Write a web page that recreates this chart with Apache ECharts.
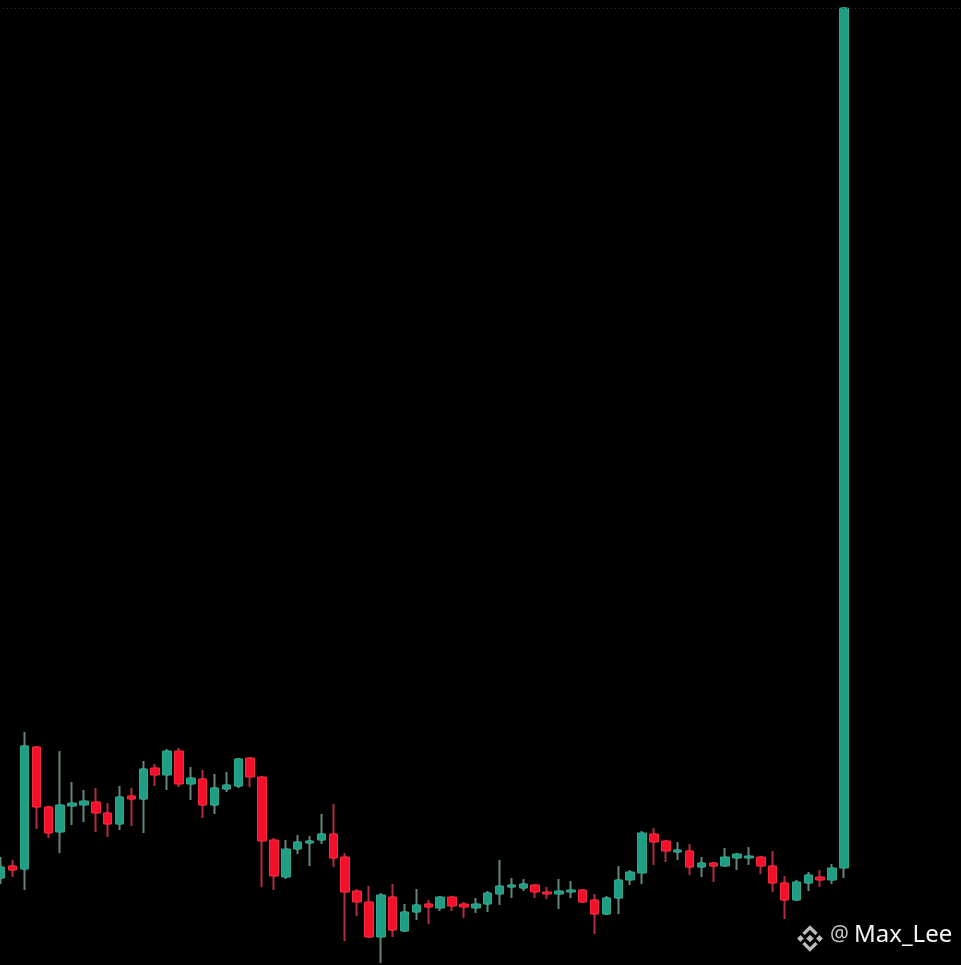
<!DOCTYPE html>
<html>
<head>
<meta charset="utf-8">
<style>html,body{margin:0;padding:0;background:#000}#c{width:961px;height:965px}</style>
<script src="https://cdn.jsdelivr.net/npm/echarts@6/dist/echarts.min.js"></script>
</head>
<body>
<div id="c"></div>
<script>
const opens = [87,99,96,218,158,133,159,160,163,152,141,169,166,197,190,214,181,186,160,176,179,207,188,125,88,116,122,125,131,108,74,63,28,68,34,53,61,57,68,61,57,61,71,78,77,80,73,71,73,75,65,51,67,85,92,131,124,113,114,98,102,99,107,107,108,99,82,65,82,88,85,97];
const closes = [98,95,219,158,132,160,162,164,152,141,168,166,196,190,214,181,187,160,177,180,206,188,124,89,116,123,124,131,107,73,63,28,70,35,53,60,58,68,59,58,61,72,79,80,81,73,71,74,75,63,51,67,85,93,132,123,114,115,98,102,99,108,111,109,99,82,65,83,90,85,97,957];
const lows = [81,88,75,136,127,112,140,143,133,128,135,139,132,179,175,178,165,147,151,173,177,178,78,75,86,111,99,121,98,24,49,27,2,28,34,45,41,54,54,47,52,53,60,67,74,67,66,56,67,62,31,50,51,80,81,100,103,105,90,88,83,98,95,100,91,73,46,64,74,78,81,87];
const highs = [108,105,233,218,158,214,183,175,177,162,179,177,204,201,216,217,198,195,191,193,207,207,189,127,125,130,129,151,161,112,76,79,72,81,61,76,65,69,68,63,67,74,105,87,86,81,78,86,84,76,71,69,99,95,134,137,125,123,121,108,102,117,112,118,109,114,89,85,93,95,101,957];
const slotCount = 82;
const guideLevel = 957;
const watermarkHandle = "Max_Lee";

const slots = Array.from({length: slotCount}, (_, i) => String(i + 1));
const wickRows = opens.map((o, i) => [o, closes[i], lows[i], highs[i]]);
const bodyRows = opens.map((o, i) => [o, closes[i], Math.min(o, closes[i]), Math.max(o, closes[i])]);

const logoGrey = "#bcbcbc";
const diamond = (cx, cy, r) => ({
  type: "polygon",
  shape: {points: [[cx, cy - r], [cx + r, cy], [cx, cy + r], [cx - r, cy]]},
  style: {fill: logoGrey}
});
const chevron = (cx, cy, dir) => ({
  type: "polyline",
  shape: {points: [[cx - 6.5, cy + dir * 6.5], [cx, cy], [cx + 6.5, cy + dir * 6.5]]},
  style: {stroke: logoGrey, lineWidth: 3.2, fill: null, lineJoin: "miter", lineCap: "butt"}
});

const chart = echarts.init(document.getElementById("c"), null, {renderer: "canvas"});
chart.setOption({
  animation: false,
  backgroundColor: "#000000",
  grid: {left: -5.19, top: 0, width: 973.9, height: 965, outerBoundsMode: "none", containLabel: false},
  xAxis: {type: "category", data: slots, show: false, boundaryGap: true},
  yAxis: {type: "value", min: 0, max: 965, show: false, scale: false},
  series: [
    {
      type: "candlestick", data: wickRows, barWidth: 2, clip: false, z: 2,
      itemStyle: {color: "#64857a", color0: "#b02c40", borderColor: "#64857a", borderColor0: "#b02c40", borderWidth: 2},
      markLine: {
        silent: true, symbol: "none", label: {show: false},
        lineStyle: {color: "#2c3644", type: [1, 3], width: 1},
        data: [{yAxis: guideLevel}]
      }
    },
    {
      type: "candlestick", data: bodyRows, barWidth: 9, clip: false, z: 3,
      itemStyle: {color: "#1f9e84", color0: "#f2102a", borderColor: "#2aa88e", borderColor0: "#f42a3e", borderWidth: 1, borderJoin: "miter"}
    }
  ],
  graphic: [
    diamond(810, 938.5, 3.8),
    diamond(800.5, 938.5, 3.4),
    diamond(819.5, 938.5, 3.4),
    chevron(810, 927.5, 1),
    chevron(810, 949.5, -1),
    {type: "text", left: 830, top: 925, style: {text: "@", fill: "#c4c4c4", font: "21px 'Noto Sans'"}},
    {type: "text", left: 854, top: 923, style: {text: watermarkHandle, fill: "#f4f4f4", font: "24px 'Noto Sans'"}}
  ]
});
</script>
</body>
</html>
